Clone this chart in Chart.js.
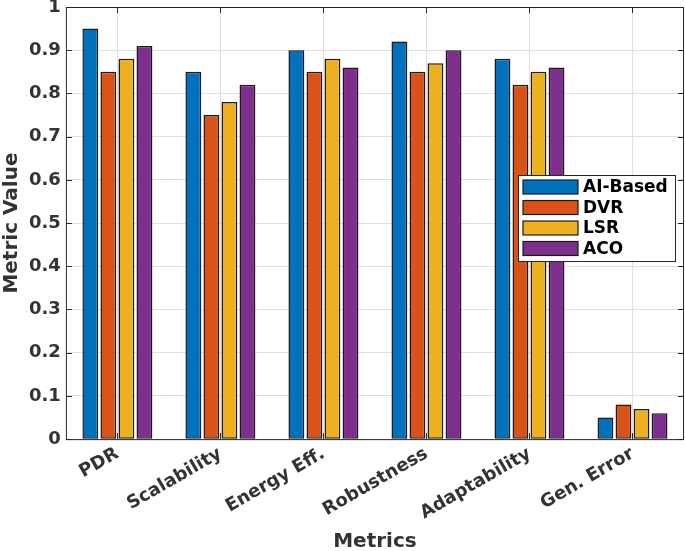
<!DOCTYPE html>
<html>
<head>
<meta charset="utf-8">
<script src="https://cdn.jsdelivr.net/npm/chart.js@4.4.1/dist/chart.umd.min.js"></script>
<style>
  html, body { margin: 0; padding: 0; background: #fff; }
  #wrap { width: 685px; height: 551px; }
</style>
</head>
<body>
<div id="wrap"><canvas id="chart" width="685" height="551"></canvas></div>
<script>
const categories = ['PDR', 'Scalability', 'Energy Eff.', 'Robustness', 'Adaptability', 'Gen. Error'];
const aiBased = [0.95, 0.85, 0.90, 0.92, 0.88, 0.05];
const dvr = [0.85, 0.75, 0.85, 0.85, 0.82, 0.08];
const lsr = [0.88, 0.78, 0.88, 0.87, 0.85, 0.07];
const aco = [0.91, 0.82, 0.86, 0.90, 0.86, 0.06];
const seriesNames = ['AI-Based', 'DVR', 'LSR', 'ACO'];
const colors = ['#0072BD', '#D95319', '#EDB120', '#7E2F8E'];

const FONT = "'DejaVu Sans', sans-serif";
const TXT = '#333333';

// box round the axes, small inner ticks + legend inside the plot, like matlab
const boxAndLegend = {
  id: 'boxAndLegend',
  afterDraw(chart) {
    const { ctx, chartArea: a, scales } = chart;
    ctx.save();
    ctx.strokeStyle = '#262626';
    ctx.lineWidth = 1;
    ctx.strokeRect(a.left + 0.5, a.top + 0.5, a.right - a.left - 1, a.bottom - a.top);

    ctx.beginPath();
    scales.y.ticks.forEach(t => {
      const y = Math.round(scales.y.getPixelForValue(t.value)) + 0.5;
      ctx.moveTo(a.left, y); ctx.lineTo(a.left + 6, y);
      ctx.moveTo(a.right, y); ctx.lineTo(a.right - 6, y);
    });
    categories.forEach((c, i) => {
      const x = Math.round(scales.x.getPixelForValue(i)) + 0.5;
      ctx.moveTo(x, a.bottom); ctx.lineTo(x, a.bottom - 6);
      ctx.moveTo(x, a.top); ctx.lineTo(x, a.top + 6);
    });
    ctx.stroke();

    const lx = 518, ly = 175, lw = 157, lh = 86;
    ctx.fillStyle = '#fff';
    ctx.fillRect(lx, ly, lw, lh);
    ctx.strokeStyle = '#262626';
    ctx.strokeRect(lx + 0.5, ly + 0.5, lw, lh);
    ctx.font = 'bold 17px ' + FONT;
    ctx.textBaseline = 'middle';
    chart.data.datasets.forEach((ds, i) => {
      const cy = ly + 12 + i * 20.5;
      ctx.fillStyle = ds.backgroundColor;
      ctx.fillRect(lx + 5, cy - 7, 55, 14);
      ctx.lineWidth = 1.2;
      ctx.strokeStyle = '#1a1a1a';
      ctx.strokeRect(lx + 5, cy - 7, 55, 14);
      ctx.fillStyle = '#000';
      ctx.fillText(ds.label, lx + 65, cy + 1);
    });
    ctx.restore();
  }
};

const seriesData = [aiBased, dvr, lsr, aco];

new Chart(document.getElementById('chart'), {
  type: 'bar',
  data: {
    labels: categories,
    datasets: seriesNames.map((name, i) => ({
      label: name,
      data: seriesData[i],
      backgroundColor: colors[i],
      borderColor: '#1a1a1a',
      borderWidth: 1.5,
      borderSkipped: false,
      categoryPercentage: 0.7,
      barPercentage: 0.88
    }))
  },
  options: {
    responsive: false,
    animation: false,
    layout: { padding: { top: 0, right: 1, left: 0, bottom: 0 } },
    plugins: {
      legend: { display: false },
      tooltip: { enabled: false }
    },
    scales: {
      x: {
        grid: { offset: false, color: '#e0e0e0', drawTicks: false },
        border: { display: false },
        ticks: {
          color: TXT,
          font: { family: FONT, size: 18, weight: 'bold' },
          minRotation: 30,
          maxRotation: 30,
          padding: 4
        },
        title: {
          display: true,
          text: 'Metrics',
          color: TXT,
          font: { family: FONT, size: 20, weight: 'bold' },
          padding: { top: 2, bottom: -3 }
        }
      },
      y: {
        min: 0,
        max: 1,
        afterFit: s => { s.paddingTop = 7; },
        grid: { color: '#e0e0e0', drawTicks: false },
        border: { display: false },
        ticks: {
          stepSize: 0.1,
          color: TXT,
          font: { family: FONT, size: 18, weight: 'bold' },
          padding: 5,
          callback: v => (Math.round(v * 10) / 10).toString()
        },
        title: {
          display: true,
          text: 'Metric Value',
          color: TXT,
          font: { family: FONT, size: 20, weight: 'bold' },
          padding: { top: 0, bottom: 0 }
        }
      }
    }
  },
  plugins: [boxAndLegend]
});
</script>
</body>
</html>
